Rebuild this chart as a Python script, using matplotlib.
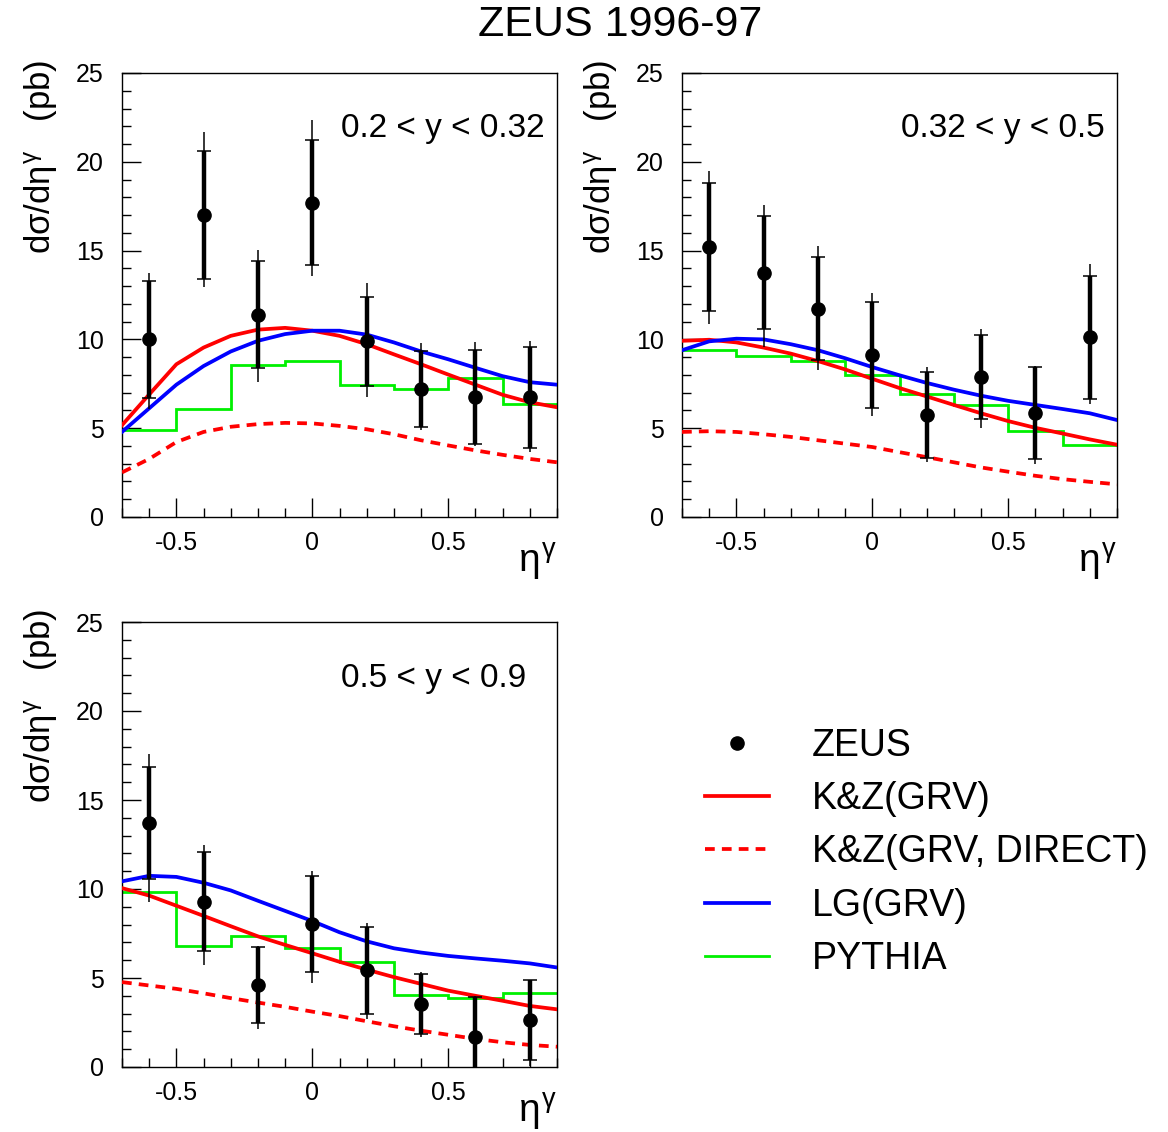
# ZEUS 1996-97 prompt photon cross sections d(sigma)/d(eta) in three y bins
import matplotlib
matplotlib.use('Agg')
import numpy as np
import matplotlib.pyplot as plt
from matplotlib.ticker import MultipleLocator, FixedLocator

plt.rcParams['font.family'] = ['Liberation Sans', 'DejaVu Sans']
plt.rcParams['mathtext.fontset'] = 'custom'
plt.rcParams['mathtext.rm'] = 'Liberation Sans'
plt.rcParams['mathtext.it'] = 'Liberation Sans'
plt.rcParams['mathtext.bf'] = 'Liberation Sans'

# measured points (bin centres)
eta_pts = [-0.6, -0.4, -0.2, 0.0, 0.2, 0.4, 0.6, 0.8]

# theory curves sampled in eta
eta_grid = [-0.7, -0.6, -0.5, -0.4, -0.3, -0.2, -0.1, 0.0, 0.1,
            0.2, 0.3, 0.4, 0.5, 0.6, 0.7, 0.8, 0.9]

# PYTHIA histogram bin edges
pythia_edges = [-0.7, -0.5, -0.3, -0.1, 0.1, 0.3, 0.5, 0.7, 0.9]

# --- 0.2 < y < 0.32 ---
zeus_1 = [10.0, 17.0, 11.4, 17.7, 9.9, 7.2, 6.75, 6.75]
stat_1 = [3.3, 3.6, 3.0, 3.5, 2.5, 2.15, 2.65, 2.85]
tot_up_1 = [3.76, 4.7, 3.66, 4.64, 3.26, 2.57, 3.08, 3.17]
tot_dn_1 = [3.92, 4.07, 3.79, 4.15, 3.14, 2.3, 2.76, 3.1]
kz_1 = [5.17, 6.9, 8.6, 9.54, 10.2, 10.55, 10.65, 10.49, 10.2,
        9.73, 9.16, 8.6, 8.02, 7.45, 6.88, 6.46, 6.18]
kz_dir_1 = [2.51, 3.27, 4.22, 4.79, 5.08, 5.23, 5.3, 5.27, 5.13,
            4.94, 4.66, 4.32, 4.03, 3.75, 3.5, 3.27, 3.08]
lg_1 = [4.79, 6.12, 7.45, 8.5, 9.32, 9.92, 10.3, 10.49, 10.49,
        10.27, 9.83, 9.32, 8.88, 8.4, 7.93, 7.59, 7.45]
pythia_1 = [4.92, 6.08, 8.56, 8.78, 7.41, 7.2, 7.83, 6.37]

# --- 0.32 < y < 0.5 ---
zeus_2 = [15.19, 13.76, 11.73, 9.13, 5.74, 7.89, 5.84, 10.11]
stat_2 = [3.6, 3.2, 2.9, 3.0, 2.4, 2.35, 2.6, 3.45]
tot_up_2 = [4.3, 3.83, 3.52, 3.46, 2.7, 2.7, 2.66, 4.13]
tot_dn_2 = [4.32, 4.18, 3.48, 3.43, 2.66, 2.87, 2.86, 3.76]
kz_2 = [9.92, 9.98, 9.83, 9.54, 9.2, 8.78, 8.31, 7.78, 7.26,
        6.79, 6.31, 5.84, 5.4, 5.02, 4.7, 4.37, 4.07]
kz_dir_2 = [4.79, 4.83, 4.79, 4.66, 4.51, 4.32, 4.13, 3.94, 3.65,
            3.37, 3.08, 2.79, 2.55, 2.32, 2.13, 1.98, 1.84]
lg_2 = [9.39, 9.89, 10.04, 10.0, 9.73, 9.39, 8.94, 8.44, 7.98,
        7.55, 7.17, 6.83, 6.54, 6.31, 6.08, 5.84, 5.46]
pythia_2 = [9.39, 9.07, 8.78, 7.98, 6.94, 6.31, 4.83, 4.03]

# --- 0.5 < y < 0.9 ---
zeus_3 = [13.69, 9.29, 4.61, 8.05, 5.43, 3.53, 1.66, 2.63]
stat_3 = [3.15, 2.8, 2.15, 2.7, 2.45, 1.7, 2.3, 2.25]
tot_up_3 = [3.89, 3.16, 2.16, 2.95, 2.67, 1.81, 2.34, 2.27]
tot_dn_3 = [4.4, 3.57, 2.46, 3.32, 2.76, 1.87, 2.4, 2.57]
kz_3 = [10.05, 9.63, 9.06, 8.49, 7.91, 7.34, 6.86, 6.39, 5.91,
        5.47, 5.05, 4.67, 4.29, 4.0, 3.72, 3.43, 3.24]
kz_dir_3 = [4.77, 4.58, 4.39, 4.14, 3.87, 3.62, 3.38, 3.11, 2.86,
            2.57, 2.29, 2.04, 1.81, 1.58, 1.39, 1.24, 1.14]
lg_3 = [10.43, 10.74, 10.68, 10.35, 9.92, 9.34, 8.77, 8.2, 7.57,
        7.06, 6.67, 6.43, 6.24, 6.1, 5.97, 5.82, 5.59]
pythia_3 = [9.82, 6.77, 7.38, 6.67, 5.91, 4.04, 3.85, 4.16]

y_labels = ['0.2 < y < 0.32', '0.32 < y < 0.5', '0.5 < y < 0.9']
legend_labels = ['ZEUS', 'K&Z(GRV)', 'K&Z(GRV, DIRECT)', 'LG(GRV)', 'PYTHIA']

fig = plt.figure(figsize=(11.68, 11.32), dpi=100)
W, H = 1168.0, 1132.0

# axes boxes in pixels: left, top, right, bottom
boxes = [(122, 73, 557, 517), (682, 73, 1117, 517), (122, 622, 557, 1067)]
panels = [
    (zeus_1, stat_1, tot_up_1, tot_dn_1, kz_1, kz_dir_1, lg_1, pythia_1),
    (zeus_2, stat_2, tot_up_2, tot_dn_2, kz_2, kz_dir_2, lg_2, pythia_2),
    (zeus_3, stat_3, tot_up_3, tot_dn_3, kz_3, kz_dir_3, lg_3, pythia_3),
]

handles = None
for box, data, ylab in zip(boxes, panels, y_labels):
    l, t, r, b = box
    ax = fig.add_axes([l / W, 1 - b / H, (r - l) / W, (b - t) / H])
    zeus, stat, tup, tdn, kz, kzd, lg, py = data

    h_py = ax.stairs(py, pythia_edges, baseline=None, color='#00f000',
                     lw=2.0, zorder=2)
    h_kzd, = ax.plot(eta_grid, kzd, color='red', lw=2.7, dashes=(2.6, 1.9),
                     zorder=3)
    h_kz, = ax.plot(eta_grid, kz, color='red', lw=2.7, zorder=3)
    h_lg, = ax.plot(eta_grid, lg, color='blue', lw=2.7, zorder=3)

    # total errors: thin line; statistical: thick line with caps
    ax.errorbar(eta_pts, zeus, yerr=[tdn, tup], fmt='none', ecolor='black',
                elinewidth=1.1, zorder=4)
    ax.errorbar(eta_pts, zeus, yerr=stat, fmt='none', ecolor='black',
                elinewidth=3.2, capsize=5, capthick=1.1, zorder=4)
    h_zeus, = ax.plot(eta_pts, zeus, 'o', color='black', ms=9.5, zorder=5)

    ax.set_xlim(-0.7, 0.9)
    ax.set_ylim(0, 25)
    ax.xaxis.set_major_locator(FixedLocator([-0.5, 0, 0.5]))
    ax.xaxis.set_minor_locator(MultipleLocator(0.1))
    ax.yaxis.set_major_locator(MultipleLocator(5))
    ax.yaxis.set_minor_locator(MultipleLocator(1))
    ax.set_xticklabels(['-0.5', '0', '0.5'])
    ax.tick_params(which='both', direction='in', top=False, right=False,
                   width=1.0, labelsize=18)
    ax.tick_params(which='major', length=13.5)
    ax.tick_params(which='minor', length=6.5)
    ax.tick_params(axis='y', pad=13)
    ax.tick_params(axis='x', pad=10)
    for s in ax.spines.values():
        s.set_linewidth(1.0)

    ax.text(0.503, 0.874, ylab, transform=ax.transAxes, fontsize=24,
            ha='left', va='center')
    ax.text(1.0, -0.055, r'$\eta^{\gamma}$', transform=ax.transAxes,
            fontsize=28, ha='right', va='top')
    ax.text(-0.186, 1.03, r'd$\sigma$/d$\eta^{\gamma}$   (pb)',
            transform=ax.transAxes, fontsize=25, rotation=90,
            ha='center', va='top')

    handles = [h_zeus, h_kz, h_kzd, h_lg, h_py]

fig.text(620 / W, 1 - 25 / H, 'ZEUS 1996-97', fontsize=31,
         ha='center', va='center')

leg = fig.legend(handles, legend_labels, loc='upper left',
                 bbox_to_anchor=(705 / W, 1 - 728 / H), frameon=False,
                 fontsize=27, numpoints=1, handlelength=1.7,
                 handletextpad=1.15, labelspacing=0.46,
                 borderpad=0, borderaxespad=0)

fig.savefig('out.png', dpi=100)
